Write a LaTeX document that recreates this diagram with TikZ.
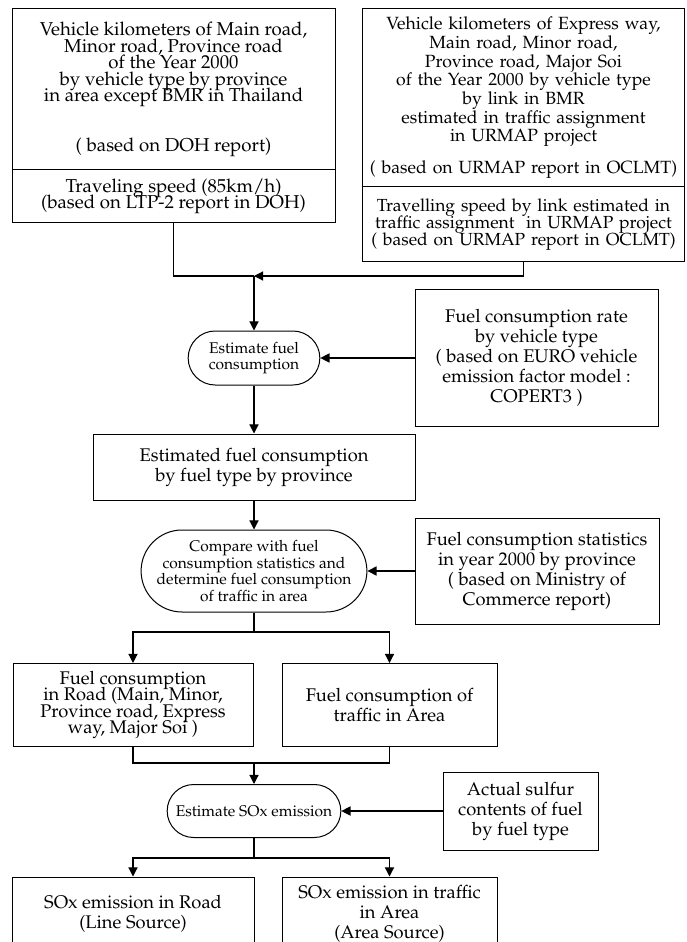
\documentclass[tikz,border=0pt]{standalone}
\usepackage[T1]{fontenc}
\usepackage{mathpazo}
\usetikzlibrary{arrows.meta, shapes.misc}
\newcommand\tightlines{\lineskiplimit -5pt\relax}

\begin{document}
\begin{tikzpicture}[x=0.6pt, y=-0.6pt,
    box/.style={draw, line width=0.6pt, align=center, inner sep=1pt},
    topbox/.style={box, font=\fontsize{11.2}{9.9}\selectfont\tightlines},
    lowbox/.style={box, font=\fontsize{11}{12}\selectfont\tightlines},
    oval/.style={draw, line width=0.6pt, rounded rectangle, align=center, inner sep=1pt, font=\fontsize{9.3}{10}\selectfont\tightlines},
    arr/.style={-{Triangle[length=5.5pt,width=5.5pt]}, line width=0.7pt},
    lnk/.style={line width=0.7pt}]
    \useasboundingbox (0,0) rectangle (686,942);
    \clip (0,0) rectangle (686,942);

    % sources of vehicle kilometers
    \node[topbox, minimum width=193.8pt, minimum height=96.6pt] (vk1) at (173.5,89.5)
        {Vehicle kilometers of Main road,\\ Minor road, Province road\\ of the Year 2000\\ by vehicle type by province\\ in area except BMR in Thailand\\[20pt] ( based on DOH report)};
    \node[topbox, minimum width=193.8pt, minimum height=31.8pt] (spd1) at (173.5,196.5)
        {Traveling speed (85km/h)\\ (based on LTP-2 report in DOH)};
    \node[topbox, font=\fontsize{10.6}{11.2}\selectfont\tightlines, text width=191pt, minimum height=106.8pt] (vk2) at (523.5,98)
        {Vehicle kilometers of Express way,\\ Main road, Minor road,\\ Province road, Major Soi\\ of the Year 2000 by vehicle type\\ by link in BMR\\ estimated in traffic assignment\\ in URMAP project\\[8pt] \mbox{( based on URMAP report in OCLMT)}};
    \node[topbox, font=\fontsize{10.5}{10}\selectfont\tightlines, text width=191pt, minimum height=45pt] (spd2) at (523.5,224.5)
        {\mbox{Travelling speed by link estimated in}\\ \mbox{traffic assignment\ \ in URMAP project}\\ \mbox{( based on URMAP report in OCLMT)}};
    \coordinate (jn) at (254,276);

    % fuel consumption
    \node[oval, minimum width=81pt, minimum height=32.4pt] (estfuel) at (254,358)
        {Estimate fuel\\ consumption};
    \node[lowbox, minimum width=145.8pt, minimum height=82.2pt] (rate) at (536.5,358)
        {Fuel consumption rate\\ by vehicle type\\ ( based on EURO vehicle\\ emission factor model :\\ COPERT3 )};
    \node[lowbox, minimum width=193.2pt, minimum height=39.6pt] (estfc) at (254,467)
        {Estimated fuel consumption\\ by fuel type by province};
    \node[oval, minimum width=129.6pt, minimum height=49.2pt] (cmp) at (254,571)
        {Compare with fuel\\ consumption statistics and\\ determine fuel consumption\\ of traffic in area};
    \node[lowbox, minimum width=146.4pt, minimum height=63.6pt] (stat) at (537,571)
        {Fuel consumption statistics\\ in year 2000 by province\\ ( based on Ministry of\\ Commerce report)};
    \coordinate (br1) at (254,632);
    \node[lowbox, font=\fontsize{11}{9.9}\selectfont\tightlines, minimum width=144pt, minimum height=49.8pt] (fcroad) at (133,705)
        {Fuel consumption\\ in Road (Main, Minor,\\ Province road, Express\\ way, Major Soi )};
    \node[lowbox, minimum width=129pt, minimum height=49.8pt] (fcarea) at (389.5,705)
        {Fuel consumption of\\ traffic in Area};
    \coordinate (mg) at (254,763);

    % SOx emission
    \node[oval, minimum width=106.2pt, minimum height=31.8pt] (estsox) at (254,811)
        {Estimate SOx emission};
    \node[lowbox, minimum width=93pt, minimum height=46.8pt] (sulf) at (520.5,811)
        {Actual sulfur\\ contents of fuel\\ by fuel type};
    \coordinate (br2) at (254,858);
    \node[lowbox, minimum width=145.2pt, minimum height=44.4pt] (soxroad) at (133,914)
        {SOx emission in Road\\ (Line Source)};
    \node[lowbox, minimum width=129pt, minimum height=43.8pt] (soxarea) at (389.5,913.5)
        {SOx emission in traffic\\ in Area\\ (Area Source)};

    % connectors
    \draw[lnk] (spd1.south) |- (jn);
    \draw[arr] (spd2.south) |- (jn);
    \draw[arr] (jn) -- (estfuel.north);
    \draw[arr] (rate.west) -- (estfuel.east);
    \draw[arr] (estfuel.south) -- (estfc.north);
    \draw[arr] (estfc.south) -- (cmp.north);
    \draw[arr] (stat.west) -- (cmp.east);
    \draw[lnk] (cmp.south) -- (br1);
    \draw[arr] (br1) -| (fcroad.north);
    \draw[arr] (br1) -| (fcarea.north);
    \draw[lnk] (fcroad.south) |- (mg) -| (fcarea.south);
    \draw[arr] (mg) -- (estsox.north);
    \draw[arr] (sulf.west) -- (estsox.east);
    \draw[lnk] (estsox.south) -- (br2);
    \draw[arr] (br2) -| (soxroad.north);
    \draw[arr] (br2) -| (soxarea.north);
\end{tikzpicture}
\end{document}
